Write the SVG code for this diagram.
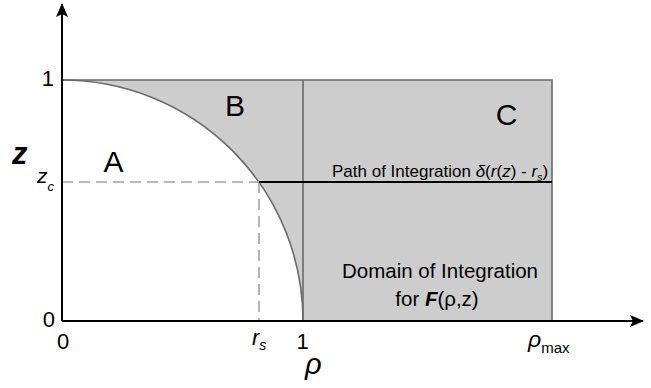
<svg xmlns="http://www.w3.org/2000/svg" width="651" height="388" viewBox="0 0 651 388">
<style>
text{font-family:"Liberation Sans",Arial,Helvetica,sans-serif;fill:#000}
.edge{fill:none;stroke:#6a6a6a;stroke-width:1.6}
.dash{fill:none;stroke:#a3a3a3;stroke-width:1.6;stroke-dasharray:11 6}
.axis{fill:none;stroke:#000;stroke-width:2}
.big{font-size:30px}
.tick{font-size:22px}
.it{font-style:italic}
</style>
<defs>
<marker id="arr" viewBox="0 0 14 12" refX="13" refY="6" markerWidth="14" markerHeight="12" markerUnits="userSpaceOnUse" orient="auto">
<path d="M0,0 L14,6 L0,12 L3,6 Z" fill="#000"/>
</marker>
</defs>
<g id="domain">
<path d="M62,80 L552,80 L552,321 L303,321 A241,241 0 0 0 62,80 Z" fill="#cdcdcd" stroke="none"/>
<path class="edge" d="M62,80 L552,80 L552,321"/>
<path class="edge" d="M303,80 L303,321"/>
<path class="edge" d="M62,80 A241,241 0 0 1 303,321"/>
</g>
<g id="guides">
<path class="dash" d="M62,182 L259,182"/>
<path class="dash" d="M259,182 L259,321"/>
</g>
<g id="path-of-integration">
<path d="M259,182 L552,182" fill="none" stroke="#000" stroke-width="1.8"/>
<text x="332" y="177" font-size="17">Path of Integration <tspan class="it">δ</tspan>(<tspan class="it">r</tspan>(<tspan class="it">z</tspan>) - <tspan class="it">r</tspan><tspan class="it" font-size="11" dy="4">s</tspan><tspan dy="-4">)</tspan></text>
</g>
<g id="axes">
<path class="axis" d="M62,321 L62,4" marker-end="url(#arr)"/>
<path class="axis" d="M62,321 L643,321" marker-end="url(#arr)"/>
</g>
<g id="region-labels">
<text class="big" x="113.5" y="172" text-anchor="middle">A</text>
<text class="big" x="235" y="116" text-anchor="middle">B</text>
<text class="big" x="506.5" y="125" text-anchor="middle">C</text>
<text x="440" y="278" font-size="20.5" text-anchor="middle">Domain of Integration</text>
<text x="437" y="306" font-size="20.5" text-anchor="middle">for <tspan font-weight="bold" font-style="italic">F</tspan>(ρ,z)</text>
</g>
<g id="axis-labels">
<text class="tick" x="54" y="86" text-anchor="end">1</text>
<text class="tick" x="55" y="327" text-anchor="end">0</text>
<text x="12" y="164" font-size="31" font-weight="bold" font-style="italic">z</text>
<text x="37" y="183" font-size="21" font-style="italic">z<tspan font-size="13" dy="8">c</tspan></text>
<text class="tick" x="63" y="349" text-anchor="middle">0</text>
<text x="252" y="345" font-size="22" font-style="italic">r<tspan font-size="14" dy="5">s</tspan></text>
<text class="tick" x="302.5" y="349" text-anchor="middle">1</text>
<text x="305" y="374" font-size="29" font-style="italic">ρ</text>
<text x="528" y="347" font-size="23" font-style="italic">ρ<tspan font-style="normal" font-size="15" dy="6">max</tspan></text>
</g>
</svg>
